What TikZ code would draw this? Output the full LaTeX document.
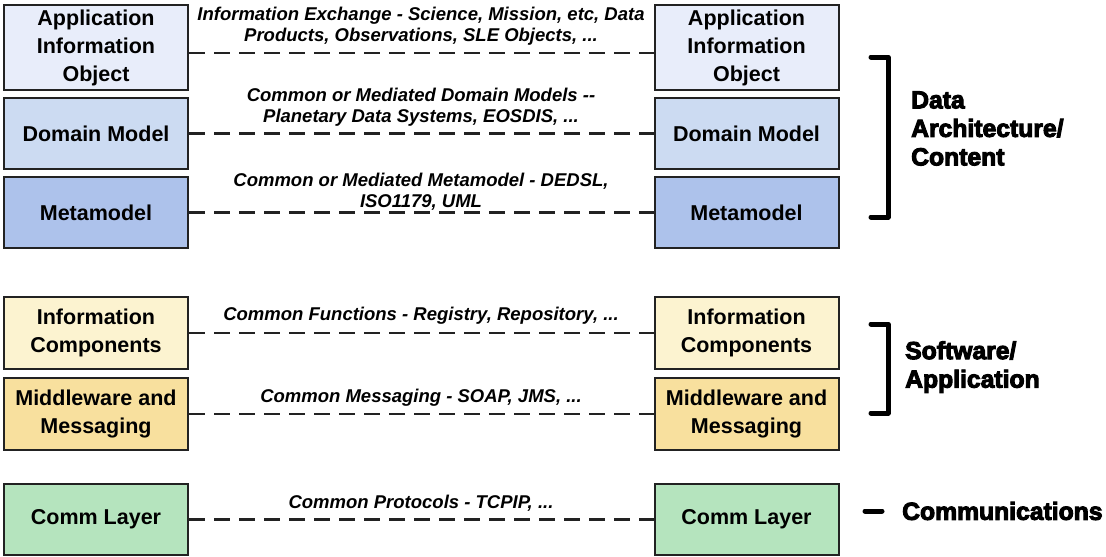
\documentclass[tikz,border=0pt]{standalone}
\usepackage{fontspec}
\setmainfont{Liberation Sans}
\setsansfont{Liberation Sans}
\newfontfamily\heavyfont{Liberation Sans}[BoldFeatures={FakeBold=4}]

\newcommand\boxfont{\sffamily\bfseries\fontsize{21.5}{28}\selectfont}
\newcommand\linkfont{\sffamily\bfseries\itshape\fontsize{18.5}{21}\selectfont}
\newcommand\groupfont{\heavyfont\bfseries\fontsize{24.7}{28.5}\selectfont}

\definecolor{appfill}{RGB}{232,237,250}
\definecolor{domainfill}{RGB}{204,219,242}
\definecolor{metafill}{RGB}{173,194,235}
\definecolor{compfill}{RGB}{252,243,208}
\definecolor{msgfill}{RGB}{248,224,158}
\definecolor{commfill}{RGB}{181,228,190}
\definecolor{edge}{RGB}{34,34,34}

\tikzset{
  layerbox/.style={draw=edge, line width=2pt, minimum width=184pt, inner sep=0pt,
    align=center, font=\boxfont, text=black},
  link/.style={draw=edge, line width=2.2pt, dash pattern=on 16pt off 9pt},
  linklabel/.style={font=\linkfont, align=center, inner sep=0pt, text=black},
  bracket/.style={draw=black, line width=5pt, line cap=round, line join=round},
  grouplabel/.style={font=\groupfont, align=left, anchor=west, inner sep=0pt, text=black}
}

\begin{document}
\begin{tikzpicture}[x=1pt, y=-1pt]
\useasboundingbox (0,0) rectangle (1106,557);

% left column of layers
\node[layerbox, fill=appfill,    minimum height=85pt] (l1) at (96,47.5)  {Application\\Information\\Object};
\node[layerbox, fill=domainfill, minimum height=71pt] (l2) at (96,133.5) {Domain Model};
\node[layerbox, fill=metafill,   minimum height=71pt] (l3) at (96,212.5) {Metamodel};
\node[layerbox, fill=compfill,   minimum height=72pt] (l4) at (96,333)   {Information\\Components};
\node[layerbox, fill=msgfill,    minimum height=72pt] (l5) at (96,414)   {Middleware and\\Messaging};
\node[layerbox, fill=commfill,   minimum height=71pt] (l6) at (96,519.5) {Comm Layer};

% right column of layers
\node[layerbox, fill=appfill,    minimum height=85pt] (r1) at (746.5,47.5)  {Application\\Information\\Object};
\node[layerbox, fill=domainfill, minimum height=71pt] (r2) at (746.5,133.5) {Domain Model};
\node[layerbox, fill=metafill,   minimum height=71pt] (r3) at (746.5,212.5) {Metamodel};
\node[layerbox, fill=compfill,   minimum height=72pt] (r4) at (746.5,333)   {Information\\Components};
\node[layerbox, fill=msgfill,    minimum height=72pt] (r5) at (746.5,414)   {Middleware and\\Messaging};
\node[layerbox, fill=commfill,   minimum height=71pt] (r6) at (746.5,519.5) {Comm Layer};

% peer-to-peer links
\draw[link] ([yshift=-5.5pt]l1.east) -- ([yshift=-5.5pt]r1.west);
\draw[link] (l2.east) -- (r2.west);
\draw[link] (l3.east) -- (r3.west);
\draw[link] (l4.east) -- (r4.west);
\draw[link] (l5.east) -- (r5.west);
\draw[link] (l6.east) -- (r6.west);

% link labels
\node[linklabel] (t1) at (421,26.5) {Information Exchange - Science, Mission, etc, Data\\Products, Observations, SLE Objects, ...};
\node[linklabel] (t2) at (421,107.5) {Common or Mediated Domain Models -{}-\\Planetary Data Systems, EOSDIS, ...};
\node[linklabel] (t3) at (421,191.5) {Common or Mediated Metamodel - DEDSL,\\ISO1179, UML};
\node[linklabel] (t4) at (421,316) {Common Functions - Registry, Repository, ...};
\node[linklabel] (t5) at (421,398) {Common Messaging - SOAP, JMS, ...};
\node[linklabel] (t6) at (421,503) {Common Protocols - TCPIP, ...};

% grouping brackets
\draw[bracket] (871,57) -- (888,57) -- (888,217) -- (871,217);
\draw[bracket] (871,324) -- (888,324) -- (888,413) -- (871,413);
\draw[bracket] (865,511) -- (882,511);

% group names
\node[grouplabel] (g1) at (911,128.5) {Data\\Architecture/\\Content};
\node[grouplabel] (g2) at (905,367) {Software/\\Application};
\node[grouplabel] (g3) at (902,511) {Communications};
\end{tikzpicture}
\end{document}
